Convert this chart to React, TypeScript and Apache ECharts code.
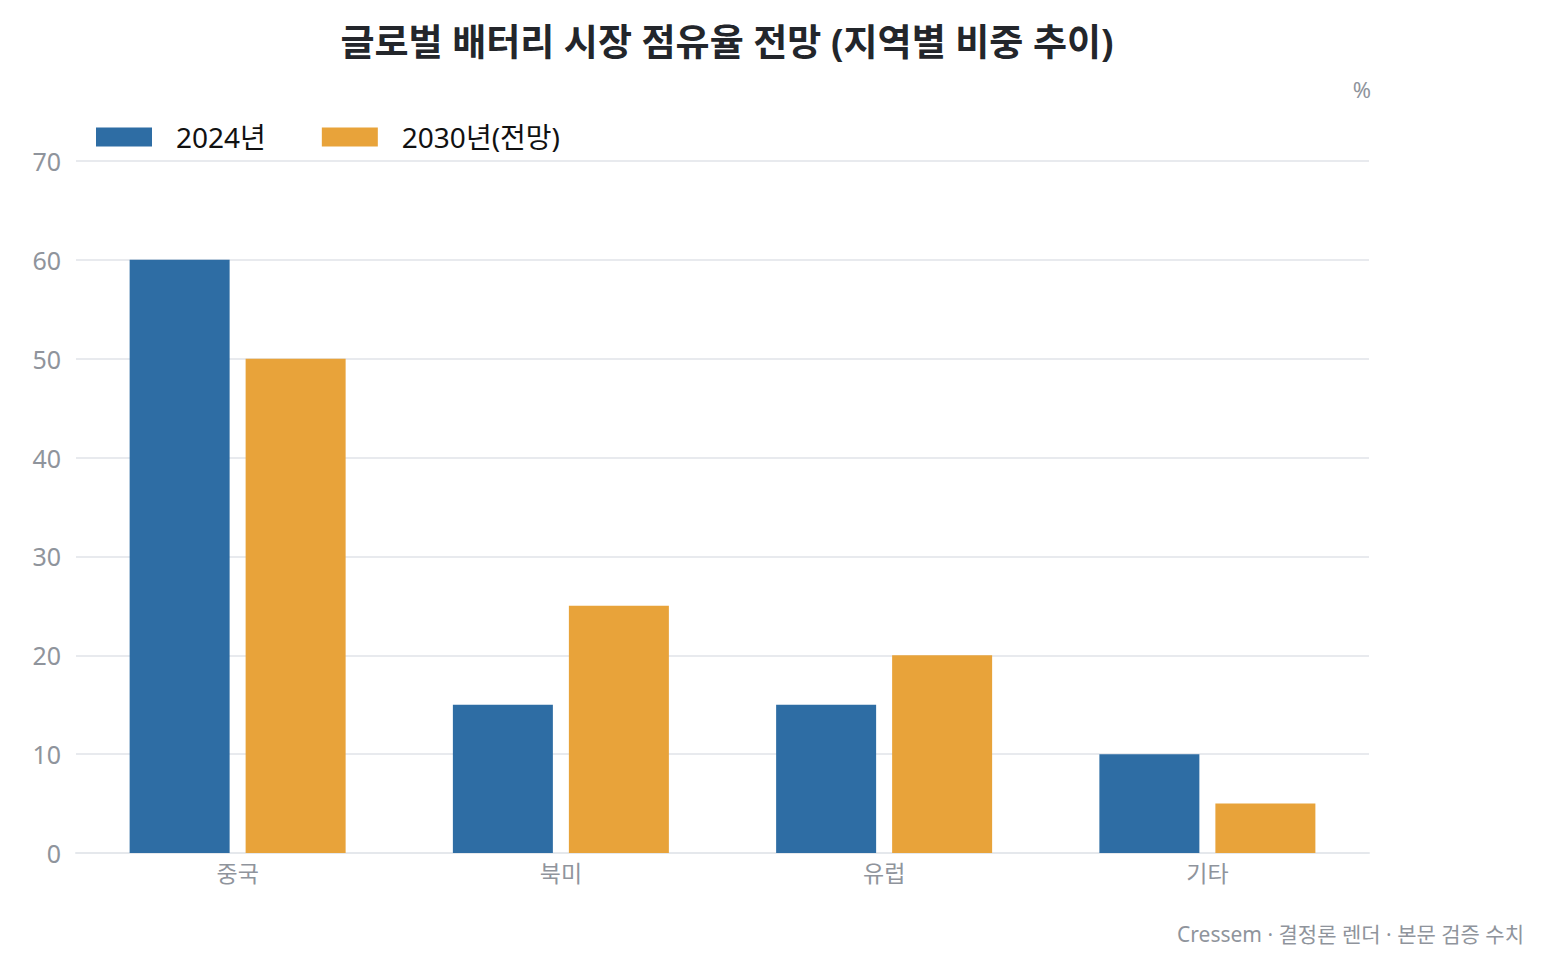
import React, { useEffect, useRef } from "react";
import * as echarts from "echarts";

const categories = ["중국", "북미", "유럽", "기타"];
const series2024 = [60, 15, 15, 10];
const series2030 = [50, 25, 20, 5];
const seriesNames = ["2024년", "2030년(전망)"];
const titleText = "글로벌 배터리 시장 점유율 전망 (지역별 비중 추이)";
const unitText = "%";
const footerText = "Cressem · 결정론 렌더 · 본문 검증 수치";

const FONT = "'Noto Sans', 'Noto Sans CJK KR', sans-serif";

export default function App() {
  const ref = useRef<HTMLDivElement>(null);
  useEffect(() => {
    document.body.style.margin = "0";
    const chart = echarts.init(ref.current!, null, { renderer: "svg" });
    chart.setOption({
      animation: false,
      backgroundColor: "#ffffff",
      textStyle: { fontFamily: FONT },
      title: {
        text: titleText,
        left: 722,
        textAlign: "center",
        top: 18,
        textStyle: { fontFamily: FONT, fontSize: 37, fontWeight: "bold", color: "#23262b" },
      },
      legend: {
        left: 91,
        top: 118,
        itemWidth: 56,
        itemHeight: 19,
        itemGap: 56,
        icon: "rect",
        textStyle: { fontFamily: FONT, fontSize: 28, color: "#111111", padding: [0, 0, 0, 19] },
        data: seriesNames,
      },
      grid: { left: 76, right: 183, top: 161, bottom: 122, containLabel: false },
      xAxis: {
        type: "category",
        data: categories,
        axisLine: { show: true, lineStyle: { color: "#e5e8ec", width: 2 } },
        axisTick: { show: false },
        axisLabel: { fontFamily: FONT, fontSize: 23, color: "#8f949c", margin: 8 },
      },
      yAxis: {
        type: "value",
        min: 0,
        max: 70,
        interval: 10,
        axisLine: { show: false },
        axisTick: { show: false },
        splitLine: { lineStyle: { color: "#e8eaee", width: 2 } },
        axisLabel: { fontFamily: FONT, fontSize: 25, color: "#8f949c", margin: 15 },
      },
      graphic: [
        {
          type: "text",
          right: 181,
          top: 78,
          style: { text: unitText, font: `22px ${FONT}`, fill: "#8f949c" },
        },
        {
          type: "text",
          right: 28,
          top: 923,
          style: { text: footerText, font: `21px ${FONT}`, fill: "#8f949c" },
        },
      ],
      series: [
        {
          name: seriesNames[0],
          type: "bar",
          data: series2024,
          barWidth: 100,
          barGap: "16%",
          itemStyle: { color: "#2e6da4" },
        },
        {
          name: seriesNames[1],
          type: "bar",
          data: series2030,
          barWidth: 100,
          barGap: "16%",
          itemStyle: { color: "#e8a33a" },
        },
      ],
    });
    return () => chart.dispose();
  }, []);
  return <div ref={ref} style={{ width: 1552, height: 975 }} />;
}
